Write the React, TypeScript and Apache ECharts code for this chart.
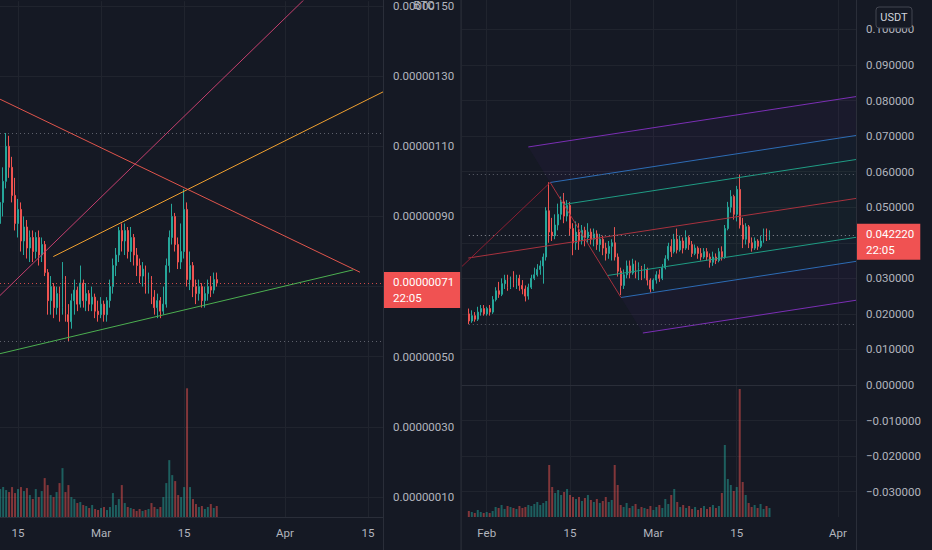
import React, { useEffect, useRef } from "react";
import * as echarts from "echarts";

// ---------- shared ----------
const CANDLE_STEP_DAYS = 0.5; // 12h candles, x = days since Feb 1

// ---------- left panel: BTC pair, prices in satoshi (1e-8 BTC) ----------
const LEFT_FIRST_DAY = 11;
const leftCandles: number[][] = [
  [88, 94, 85, 96], [94, 100, 90, 104], [100, 110, 98, 113.8], [110, 104, 101, 113],
  [104, 96, 94, 107], [96, 88, 86, 101], [88, 92, 84, 95], [92, 83, 80, 94],
  [83, 87, 79, 90], [87, 81, 78, 89], [81, 84, 77, 86], [84, 80, 77, 86],
  [80, 84, 78, 85.5], [84, 79, 76, 86], [79, 82, 77, 84], [82, 74, 73, 83],
  [74, 66, 62, 75], [66, 70, 62, 73], [70, 64, 61, 71], [64, 68, 62, 70],
  [68, 64, 60, 70], [64, 72, 62, 77], [72, 62, 60, 73], [62, 60, 54.5, 65],
  [60, 66, 58, 68], [66, 69, 62, 72], [69, 65, 63, 70], [65, 71, 64, 76],
  [71, 66, 64, 72], [66, 68, 63, 71], [68, 65, 63, 69], [65, 67, 63, 70],
  [67, 63, 61, 68], [63, 62, 60, 66], [62, 65, 61, 67], [65, 62, 60, 66],
  [62, 66, 60, 67], [66, 70, 64, 72], [70, 76, 68, 78], [76, 79, 73, 81],
  [79, 86, 77, 87], [86, 83, 80, 88], [83, 86, 79, 88], [86, 80, 78, 87],
  [80, 84, 77, 87], [84, 79, 76, 85], [79, 76, 73, 81], [76, 73, 71, 78],
  [73, 75, 70, 77], [75, 70, 68, 76], [70, 72, 68, 74], [72, 67, 65, 73],
  [67, 64, 62, 69], [64, 66, 61, 68], [66, 63, 61, 67], [63, 65, 62, 70],
  [65, 76, 64, 78], [76, 84, 74, 86], [84, 90, 82, 93.6], [90, 82, 80, 91],
  [82, 77, 75, 84], [77, 80, 75, 88], [80, 92, 78, 97.8], [92, 72, 70, 94],
  [72, 76, 69, 80], [76, 70, 67, 77], [70, 68, 65, 72], [68, 70, 66, 72],
  [70, 66, 64, 71], [66, 68, 64, 70], [68, 70, 66, 72], [70, 69, 67, 73],
  [69, 72, 68, 74], [72, 71, 70, 74],
];
const leftVolumes = [
  28, 30, 27, 25, 30, 24, 28, 30, 26, 29, 22, 18, 28, 20, 26, 39, 32, 22, 20, 25,
  34, 49, 25, 32, 20, 18, 14, 15, 12, 11, 9, 12, 8, 7, 9, 10, 7, 10, 24, 12,
  18, 32, 14, 10, 9, 8, 6, 8, 6, 7, 8, 14, 10, 8, 10, 20, 34, 57, 42, 36,
  22, 20, 30, 129, 30, 18, 13, 10, 11, 8, 10, 13, 9, 11,
];
const leftDateTicks = [14, 28, 42, 59, 73];
const leftDateLabels = ["15", "Mar", "15", "Apr", "15"];
const leftPriceTicks = [10, 30, 50, 70, 90, 110, 130, 150];
const leftPriceLabelValues = [10, 30, 50, 90, 110, 130, 150]; // 70 sits under the last-price box
const leftLastPrice = 71;
const leftHigh = 113.8;
const leftLow = 54.5;
const leftGreenLine = [[10.97, 50.88], [70.52, 74.78]];
const leftOrangeLine = [[19.95, 78.56], [76.5, 126.33]];
const leftRedLine = [[10.97, 123.43], [71.65, 74.1]];
const leftPinkLine = [[10.97, 67.47], [64.16, 155]];
const LEFT_X_RANGE = [10.966, 75.53];
const LEFT_Y_RANGE = [4.31, 151.39];

// ---------- right panel: USDT pair, prices in milli-USDT ----------
const RIGHT_FIRST_DAY = -3;
const rightCandles: number[][] = [
  [20, 18, 17.1, 21.5], [18, 19.5, 17.5, 21], [19.5, 18.5, 17.8, 20.5], [18.5, 20.5, 18, 22],
  [20.5, 21.5, 19.5, 22.5], [21.5, 20, 19.5, 22.5], [20, 21.5, 19.5, 22], [21.5, 20.5, 19.5, 22.5],
  [20.5, 24, 20, 25], [24, 26.5, 23.5, 27.5], [26.5, 25.5, 24.5, 29], [25.5, 28.5, 25, 30],
  [28.5, 29.5, 27, 31], [29.5, 27.5, 26.5, 31], [27.5, 29.5, 27, 30.5], [29.5, 28.5, 27.5, 32],
  [28.5, 30, 27, 31], [30, 28, 26.5, 31], [28, 27, 25.5, 29.5], [27, 25, 23.5, 28],
  [25, 27.5, 24, 28.5], [27.5, 30, 27, 31], [30, 31, 29.5, 33], [31, 32.5, 30.5, 34],
  [32.5, 33.5, 31, 35], [33.5, 36, 28.5, 37], [36, 49, 35, 50], [49, 43, 40, 57],
  [43, 42, 40.5, 47], [42, 45, 41, 48], [45, 48, 43.5, 51], [48, 51.5, 46.5, 53],
  [51.5, 47.5, 45.5, 54], [47.5, 50.5, 46, 52], [50.5, 44, 42, 51.5], [44, 40, 36.5, 45.5],
  [40, 43, 38, 46], [43, 40.5, 38, 45.5], [40.5, 43.5, 39.5, 45], [43.5, 41.5, 39, 44.5],
  [41.5, 43, 40, 45.5], [43, 41, 39.5, 44], [41, 42.5, 39, 44], [42.5, 39.5, 38, 43.5],
  [39.5, 41, 37.5, 42.5], [41, 38.5, 36.5, 42], [38.5, 37, 35, 40], [37, 39, 35.5, 40.5],
  [39, 40, 35, 41], [40, 36, 35, 44.4], [36, 32, 30.5, 37], [32, 28, 25.3, 33],
  [28, 31, 27, 32.5], [31, 33.5, 30, 35], [33.5, 31.5, 30, 35], [31.5, 34, 31, 35.5],
  [34, 32, 30, 35], [32, 33, 29.5, 34.5], [33, 31, 29.5, 33.5], [31, 32.5, 30, 34],
  [32.5, 29.5, 28, 33], [29.5, 27, 26, 30], [27, 29.5, 26.5, 30], [29.5, 31, 28.5, 32],
  [31, 30, 29, 32.5], [30, 33, 29.5, 34], [33, 35.5, 32.5, 36.5], [35.5, 39, 35, 40],
  [39, 37.5, 36, 41], [37.5, 41, 37, 42.5], [41, 38, 37, 44], [38, 40.5, 37.5, 42],
  [40.5, 38.5, 37, 41.5], [38.5, 41.5, 38, 43.5], [41.5, 39.5, 38, 42], [39.5, 37, 36, 40.5],
  [37, 38.5, 36.5, 39.5], [38.5, 37, 35.5, 39], [37, 36, 35, 38.5], [36, 37.5, 35.5, 38.5],
  [37.5, 36, 35, 38.5], [36, 34.5, 33, 37], [34.5, 36, 33.5, 37.5], [36, 35, 34, 37],
  [35, 37.5, 34.5, 38.5], [37.5, 36, 35, 39], [36, 44, 35.5, 45], [44, 50, 43.5, 51.5],
  [50, 53, 48.5, 54.8], [53, 48, 46.5, 53.5], [48, 55, 46, 56], [55, 45, 44, 59.2],
  [45, 41, 38.5, 47], [41, 44.5, 39.5, 45.5], [44.5, 40, 38.5, 45], [40, 38.5, 37.5, 41.5],
  [38.5, 40.5, 38, 41.5], [40.5, 39, 38, 41], [39, 40.5, 38.5, 42], [40.5, 42.5, 40, 44],
  [42.5, 41.5, 40.5, 44], [41.5, 42.22, 40.8, 43.5],
];
const rightVolumes = [
  6, 5, 4, 7, 5, 4, 5, 4, 6, 10, 9, 12, 8, 11, 10, 9, 8, 11, 9, 10,
  12, 11, 13, 15, 12, 14, 16, 52, 30, 24, 27, 22, 25, 28, 22, 20, 18, 20, 16, 19,
  22, 17, 15, 18, 14, 16, 20, 15, 17, 52, 32, 12, 10, 14, 9, 11, 13, 8, 10, 9,
  8, 11, 7, 10, 12, 9, 18, 13, 22, 28, 15, 10, 12, 9, 11, 8, 10, 7, 9, 11,
  8, 10, 12, 9, 11, 24, 72, 38, 32, 26, 30, 128, 35, 22, 14, 10, 12, 9, 13, 8,
  11, 9,
];
const rightDateTicks = [0, 14, 28, 42, 59];
const rightDateLabels = ["Feb", "15", "Mar", "15", "Apr"];
const rightPriceTicks = [-30, -20, -10, 0, 10, 20, 30, 40, 50, 60, 70, 80, 90, 100];
const rightPriceLabelValues = [-30, -20, -10, 0, 10, 20, 30, 50, 60, 70, 80, 90, 100]; // 40 sits under the box
const rightLastPrice = 42.22;
const rightHigh = 59.2;
const rightLow = 17.1;
// pitchfork anchor points [day, milli-USDT]
const forkHandleStart = [-4.15, 33.35];
const forkP1 = [-3.09, 35.71];
const forkP2 = [10.665, 56.95];
const forkP3 = [22.556, 24.61];
const forkLevels = [0.618, 1, 1.618];
const RIGHT_X_RANGE = [-4.148, 62.03];
const RIGHT_Y_RANGE = [-37.12, 108.27];

const VOLUME_AXIS_MAX = 517;

// ---------- style ----------
const BG = "#151924";
const GRID = "#20242e";
const BORDER = "#2a2e39";
const TEXT = "#b2b5be";
const FONT = "Roboto, 'Noto Sans', sans-serif";
const UP = "#26a69a";
const DOWN = "#ef5350";
const UP_VOL = "rgba(38,166,154,0.5)";
const DOWN_VOL = "rgba(239,83,80,0.5)";
const DOT_GRAY = "#5d606b";
const forkLineColors = ["#1f9c84", "#2d6cb5", "#7b2fb5"];
const forkFillColors = ["rgba(31,156,132,0.05)", "rgba(45,108,181,0.05)", "rgba(123,47,181,0.06)"];
const FORK_MEDIAN = "#a8323e";
const FORK_HANDLE = "#8c1f33";

function candleRows(first: number, list: number[][]) {
  return list.map((c, i) => [first + i * CANDLE_STEP_DAYS, c[0], c[1], c[2], c[3]]);
}
function volumeItems(first: number, candles: number[][], vols: number[]) {
  return vols.map((v, i) => ({
    value: [first + i * CANDLE_STEP_DAYS, v],
    itemStyle: { color: candles[i][1] >= candles[i][0] ? UP_VOL : DOWN_VOL },
  }));
}
const fmtLeft = (v: number) => (v / 1e8).toFixed(8);
const fmtRight = (v: number) => {
  const s = Math.abs(v / 1000).toFixed(6);
  return v < -1e-9 ? "\u2212" + s : s;
};

function priceBox(coord: number[], text: string) {
  return {
    symbol: "rect",
    symbolSize: 0.01,
    silent: true,
    itemStyle: { color: "rgba(0,0,0,0)" },
    data: [{ coord }],
    label: {
      show: true,
      position: "right",
      distance: 0,
      offset: [0, 7],
      formatter: () => `{p|${text}}\n{t|22:05}`,
      backgroundColor: "#f05252",
      padding: [2, 6, 2, 10],
      rich: {
        p: { color: "#ffffff", fontSize: 11.5, lineHeight: 16, fontFamily: FONT },
        t: { color: "#ffffff", fontSize: 11.5, lineHeight: 16, fontFamily: FONT },
      },
    },
  };
}

function xAxisFor(gridIndex: number, range: number[], ticks: number[], labels: string[]) {
  return {
    type: "value",
    gridIndex,
    min: range[0],
    max: range[1],
    axisLine: { show: true, lineStyle: { color: BORDER } },
    axisTick: { show: false, customValues: ticks },
    axisLabel: {
      customValues: ticks,
      formatter: (v: number) => {
        const k = ticks.findIndex((t) => Math.abs(t - v) < 1e-6);
        return k >= 0 ? labels[k] : "";
      },
      color: TEXT,
      fontSize: 11.5,
      fontFamily: FONT,
      margin: 10,
    },
    splitLine: { show: true, lineStyle: { color: GRID, width: 1 } },
  };
}

function priceAxis(gridIndex: number, range: number[], ticks: number[], labelValues: number[], fmt: (v: number) => string) {
  return {
    type: "value",
    gridIndex,
    position: "right",
    min: range[0],
    max: range[1],
    axisLine: { show: false },
    axisTick: { show: false, customValues: ticks },
    axisLabel: {
      customValues: labelValues,
      formatter: fmt,
      color: TEXT,
      fontSize: 11.5,
      fontFamily: FONT,
      margin: 10,
      align: "left",
    },
    splitLine: { show: true, lineStyle: { color: GRID, width: 1 } },
  };
}

function trend(data: number[][], color: string) {
  return {
    type: "line",
    xAxisIndex: 0,
    yAxisIndex: 0,
    data,
    symbol: "none",
    silent: true,
    clip: true,
    z: 5,
    lineStyle: { color, width: 1 },
  };
}

function forkRenderItem(_params: any, api: any) {
  const mid = [(forkP2[0] + forkP3[0]) / 2, (forkP2[1] + forkP3[1]) / 2];
  const dir = [mid[0] - forkP1[0], mid[1] - forkP1[1]];
  const startAt = (f: number, toward: number[]) => [
    mid[0] + f * (toward[0] - mid[0]),
    mid[1] + f * (toward[1] - mid[1]),
  ];
  const endAt = (s: number[]) => {
    const t = (RIGHT_X_RANGE[1] - s[0]) / dir[0];
    return [RIGHT_X_RANGE[1], s[1] + t * dir[1]];
  };
  const px = (p: number[]) => api.coord(p);
  const seg = (a: number[], b: number[], color: string) => {
    const pa = px(a);
    const pb = px(b);
    return { type: "line", shape: { x1: pa[0], y1: pa[1], x2: pb[0], y2: pb[1] }, style: { stroke: color, lineWidth: 1 } };
  };
  const children: any[] = [];
  const levels = [0, ...forkLevels];
  [forkP2, forkP3].forEach((toward) => {
    for (let k = 1; k < levels.length; k++) {
      const a = startAt(levels[k - 1], toward);
      const b = startAt(levels[k], toward);
      children.push({
        type: "polygon",
        shape: { points: [px(a), px(endAt(a)), px(endAt(b)), px(b)] },
        style: { fill: forkFillColors[k - 1] },
      });
    }
  });
  [forkP2, forkP3].forEach((toward) => {
    forkLevels.forEach((f, k) => {
      const s = startAt(f, toward);
      children.push(seg(s, endAt(s), forkLineColors[k]));
    });
  });
  children.push(seg(forkP1, endAt(forkP1), FORK_MEDIAN));
  children.push(seg(forkP2, forkP3, FORK_MEDIAN));
  children.push(seg(forkHandleStart, forkP2, FORK_HANDLE));
  return { type: "group", children };
}

function buildOption() {
  const dotted = (color: string) => ({ type: [1, 3], color, width: 1 });
  const candleStyle = { color: UP, color0: DOWN, borderColor: UP, borderColor0: DOWN, borderWidth: 1 };
  return {
    animation: false,
    backgroundColor: BG,
    textStyle: { fontFamily: FONT },
    grid: [
      { left: 0, top: 0, width: 383, height: 517 },
      { left: 462, top: 0, width: 394, height: 517 },
    ],
    xAxis: [
      xAxisFor(0, LEFT_X_RANGE, leftDateTicks, leftDateLabels),
      xAxisFor(1, RIGHT_X_RANGE, rightDateTicks, rightDateLabels),
    ],
    yAxis: [
      priceAxis(0, LEFT_Y_RANGE, leftPriceTicks, leftPriceLabelValues, fmtLeft),
      { type: "value", gridIndex: 0, show: false, min: 0, max: VOLUME_AXIS_MAX, splitLine: { show: false } },
      priceAxis(1, RIGHT_Y_RANGE, rightPriceTicks, rightPriceLabelValues, fmtRight),
      { type: "value", gridIndex: 1, show: false, min: 0, max: VOLUME_AXIS_MAX, splitLine: { show: false } },
    ],
    series: [
      {
        type: "bar",
        xAxisIndex: 0,
        yAxisIndex: 1,
        barWidth: 2,
        silent: true,
        z: 1,
        data: volumeItems(LEFT_FIRST_DAY, leftCandles, leftVolumes),
      },
      {
        type: "candlestick",
        xAxisIndex: 0,
        yAxisIndex: 0,
        encode: { x: 0, y: [1, 2, 3, 4] },
        barWidth: 1.4,
        silent: true,
        z: 3,
        itemStyle: candleStyle,
        data: candleRows(LEFT_FIRST_DAY, leftCandles),
        markLine: {
          silent: true,
          symbol: ["none", "none"],
          label: { show: false },
          data: [
            { yAxis: leftHigh, lineStyle: dotted(DOT_GRAY) },
            { yAxis: leftLow, lineStyle: dotted(DOT_GRAY) },
            { yAxis: leftLastPrice, lineStyle: dotted("rgba(239,83,80,0.85)") },
          ],
        },
        markPoint: priceBox([LEFT_X_RANGE[1], leftLastPrice], fmtLeft(leftLastPrice)),
      },
      trend(leftGreenLine, "#4caf50"),
      trend(leftOrangeLine, "#f0a030"),
      trend(leftRedLine, "#e0554c"),
      trend(leftPinkLine, "#c43f6e"),
      {
        type: "custom",
        xAxisIndex: 1,
        yAxisIndex: 2,
        silent: true,
        z: 4,
        data: [[forkP1[0], forkP1[1]]],
        encode: { x: 0, y: 1 },
        renderItem: forkRenderItem,
      },
      {
        type: "bar",
        xAxisIndex: 1,
        yAxisIndex: 3,
        barWidth: 2,
        silent: true,
        z: 1,
        data: volumeItems(RIGHT_FIRST_DAY, rightCandles, rightVolumes),
      },
      {
        type: "candlestick",
        xAxisIndex: 1,
        yAxisIndex: 2,
        encode: { x: 0, y: [1, 2, 3, 4] },
        barWidth: 1.4,
        silent: true,
        z: 3,
        itemStyle: candleStyle,
        data: candleRows(RIGHT_FIRST_DAY, rightCandles),
        markLine: {
          silent: true,
          symbol: ["none", "none"],
          label: { show: false },
          data: [
            [{ coord: [RIGHT_FIRST_DAY, rightHigh], lineStyle: dotted(DOT_GRAY) }, { coord: [RIGHT_X_RANGE[1], rightHigh] }],
            [{ coord: [RIGHT_FIRST_DAY, rightLow], lineStyle: dotted(DOT_GRAY) }, { coord: [RIGHT_X_RANGE[1], rightLow] }],
            [{ coord: [RIGHT_FIRST_DAY, rightLastPrice], lineStyle: dotted("#8a8d96") }, { coord: [RIGHT_X_RANGE[1], rightLastPrice] }],
          ],
        },
        markPoint: priceBox([RIGHT_X_RANGE[1], rightLastPrice], fmtRight(rightLastPrice)),
      },
    ],
    graphic: [
      { type: "rect", z: 50, shape: { x: 383, y: 0, width: 1, height: 550 }, style: { fill: BORDER } },
      { type: "rect", z: 50, shape: { x: 460.5, y: 0, width: 1.2, height: 550 }, style: { fill: BORDER } },
      { type: "rect", z: 50, shape: { x: 856, y: 0, width: 1, height: 550 }, style: { fill: BORDER } },
      {
        type: "text",
        z: 60,
        x: 424,
        y: 5,
        style: { text: "BTC", fill: TEXT, font: `11.5px ${FONT}`, textAlign: "center", textVerticalAlign: "middle" },
      },
      {
        type: "rect",
        z: 60,
        shape: { x: 876, y: 7, width: 36, height: 21, r: 3 },
        style: { fill: BG, stroke: "#434651", lineWidth: 1 },
      },
      {
        type: "text",
        z: 61,
        x: 894,
        y: 17.5,
        style: { text: "USDT", fill: "#d1d4dc", font: `11px ${FONT}`, textAlign: "center", textVerticalAlign: "middle" },
      },
    ],
  };
}

export default function App() {
  const ref = useRef<HTMLDivElement>(null);
  useEffect(() => {
    if (!ref.current) return;
    document.body.style.margin = "0";
    document.body.style.background = BG;
    const chart = echarts.init(ref.current, null, { renderer: "svg" });
    chart.setOption(buildOption() as any);
    return () => chart.dispose();
  }, []);
  return (
    <div
      ref={ref}
      style={{ position: "fixed", left: 0, top: 0, width: 932, height: 550, background: BG }}
    />
  );
}
